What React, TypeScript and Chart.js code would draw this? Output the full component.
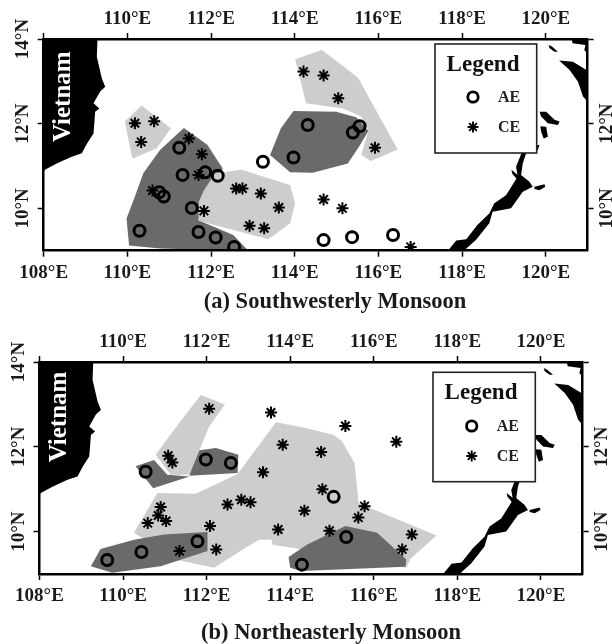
import React, { useEffect, useRef } from "react";
import { Chart, registerables } from "chart.js";

Chart.register(...registerables);

type P = [number, number];

const lonTicks = [108, 110, 112, 114, 116, 118, 120];
const latTicks = [10, 12, 14];

const vietnam: P[] = [[107.9, 14.1], [109.29, 14.1], [109.27, 13.58], [109.39, 13.07], [109.47, 12.87], [109.35, 12.76], [109.19, 12.48], [109.33, 12.36], [109.23, 12.28], [109.21, 12.01], [109.19, 11.77], [109.04, 11.54], [108.91, 11.3], [108.67, 11.22], [108.31, 11.06], [108.03, 10.91], [107.9, 10.75]];
const palawan: P[] = [[117.62, 8.95], [117.86, 9.24], [118.1, 9.27], [118.37, 9.61], [118.65, 9.88], [118.77, 10.12], [119.05, 10.31], [119.33, 10.75], [119.29, 10.98], [119.45, 11.38], [119.53, 11.3], [119.45, 11.06], [119.41, 10.79], [119.61, 10.63], [119.69, 10.51], [119.45, 10.39], [119.17, 10.0], [118.73, 9.92], [118.65, 9.65], [118.33, 9.25], [118.1, 9.05], [118.08, 8.95]];
const luzon: P[] = [[120.32, 13.49], [120.65, 13.46], [121.1, 13.19], [121.1, 12.4], [120.89, 12.64], [120.77, 12.99], [120.57, 13.27]];
const cornerIsland: P[] = [[120.6, 14.1], [121.1, 14.1], [121.1, 13.54], [120.92, 13.74], [120.95, 13.86], [120.64, 13.9]];
const islet1: P[] = [[120.07, 13.86], [120.15, 13.82], [120.29, 13.7], [120.21, 13.7], [120.09, 13.78]];
const islet2: P[] = [[119.85, 12.28], [120.01, 12.28], [120.21, 12.09], [120.33, 12.05], [120.29, 11.97], [120.05, 12.01], [119.89, 12.17]];
const islet3: P[] = [[119.87, 11.94], [120.01, 11.93], [120.05, 11.69], [119.95, 11.65], [119.89, 11.81]];
const islet4: P[] = [[119.73, 11.48], [119.85, 11.5], [119.81, 11.38], [119.75, 11.4]];
const islet5: P[] = [[119.73, 10.51], [119.97, 10.57], [119.99, 10.51], [119.85, 10.43], [119.73, 10.46]];
const islet6: P[] = [[119.18, 10.91], [119.33, 10.79], [119.38, 10.71], [119.33, 10.67], [119.2, 10.82]];
const land = [vietnam, palawan, luzon, cornerIsland, islet1, islet2, islet3, islet4, islet5, islet6];

// (a) Southwesterly Monsoon
const swLightNW: P[] = [[109.94, 12.05], [110.34, 12.43], [111.04, 11.89], [110.7, 11.42], [110.12, 11.17]];
const swDarkSW: P[] = [[111.35, 11.9], [111.91, 11.5], [112.28, 10.94], [111.83, 10.35], [111.7, 9.72], [112.53, 9.37], [112.89, 9.0], [110.78, 9.05], [110.04, 9.12], [109.98, 9.76], [110.18, 10.28], [110.38, 10.83], [110.78, 11.38]];
const swLightMid: P[] = [[112.73, 10.91], [112.1, 10.83], [111.83, 10.43], [111.71, 10.16], [111.7, 9.71], [112.53, 9.49], [113.37, 9.27], [113.89, 9.65], [114.01, 10.12], [113.89, 10.55]];
const swDarkN: P[] = [[113.97, 12.3], [114.99, 12.28], [115.47, 12.15], [115.76, 11.83], [115.55, 11.48], [115.27, 11.06], [114.43, 10.84], [113.89, 10.85], [113.41, 11.26], [113.67, 11.89]];
const swLightN: P[] = [[114.01, 13.52], [114.65, 13.74], [115.51, 13.09], [116.46, 11.39], [115.82, 11.12], [115.59, 11.26], [115.76, 11.83], [115.59, 12.17], [115.15, 12.36], [114.27, 12.48]];
const swAE: P[] = [[110.29, 9.47], [110.76, 10.38], [110.87, 10.28], [111.24, 11.43], [111.32, 10.79], [111.86, 10.85], [112.16, 10.77], [111.54, 10.01], [111.7, 9.44], [112.11, 9.31], [112.55, 9.09], [113.24, 11.1], [113.97, 11.2], [114.31, 11.97], [115.39, 11.79], [115.55, 11.94], [114.69, 9.25], [115.37, 9.32], [116.35, 9.37]];
const swCE: P[] = [[110.18, 12.01], [110.64, 12.06], [110.33, 11.57], [111.47, 11.65], [111.78, 11.28], [111.7, 10.79], [110.6, 10.42], [111.83, 9.94], [112.6, 10.47], [112.75, 10.47], [113.19, 10.35], [113.62, 10.02], [112.92, 9.59], [113.27, 9.53], [114.21, 13.23], [114.69, 13.14], [115.04, 12.6], [115.92, 11.43], [114.69, 10.21], [115.14, 10.0], [116.77, 9.09]];

// (b) Northeasterly Monsoon
const neDarkW: P[] = [[110.3, 11.54], [110.74, 11.69], [111.06, 11.34], [111.59, 11.3], [110.72, 11.02]];
const neDarkE: P[] = [[111.78, 11.91], [112.22, 11.97], [112.76, 11.81], [112.74, 11.38], [111.59, 11.32], [111.68, 11.69]];
const neLightArm: P[] = [[111.86, 13.22], [112.44, 13.0], [112.06, 12.48], [111.59, 11.34], [111.14, 11.34], [110.78, 11.81], [111.22, 12.4]];
const neLightMain: P[] = [[110.82, 10.91], [111.74, 10.89], [112.74, 11.36], [113.66, 12.58], [114.4, 12.44], [115.04, 12.28], [115.24, 12.13], [115.54, 11.62], [115.64, 10.67], [117.5, 9.91], [116.88, 9.36], [116.78, 9.15], [115.06, 9.5], [114.3, 9.58], [113.58, 9.69], [113.55, 9.81], [113.26, 9.81], [112.98, 9.65], [112.18, 9.15], [111.3, 9.33], [110.26, 9.97]];
const neDarkSW: P[] = [[109.46, 9.59], [110.26, 9.81], [110.98, 9.93], [112.02, 9.99], [112.02, 9.54], [110.9, 9.18], [109.74, 9.03], [109.23, 9.18]];
const neDarkSE: P[] = [[113.96, 9.4], [114.0, 9.15], [114.26, 9.07], [116.76, 9.17], [116.78, 9.34], [116.08, 9.97], [115.32, 10.13], [114.9, 9.93], [114.4, 9.69]];
const neAE: P[] = [[109.62, 9.33], [110.44, 9.52], [111.78, 9.77], [110.54, 11.41], [111.98, 11.7], [112.58, 11.62], [114.28, 9.22], [115.04, 10.82], [115.34, 9.87]];
const neCE: P[] = [[112.06, 12.9], [113.54, 12.81], [111.08, 11.79], [111.18, 11.63], [113.82, 12.05], [113.35, 11.4], [110.9, 10.58], [110.84, 10.38], [111.03, 10.25], [110.59, 10.2], [112.08, 10.13], [112.5, 10.64], [112.83, 10.75], [113.05, 10.69], [113.71, 10.05], [111.35, 9.54], [112.23, 9.58], [114.34, 10.49], [115.32, 12.49], [116.54, 12.12], [114.74, 11.88], [114.77, 11.0], [115.78, 10.6], [115.63, 10.33], [114.94, 10.02], [116.91, 9.93], [116.68, 9.58]];

const DARK = "#6a6a6a";
const LIGHT = "#cdcdcd";
const SERIF = '"Liberation Serif", serif';

const toXY = (pts: P[]) => pts.map(([x, y]) => ({ x, y }));
const poly = (pts: P[], color: string, order: number) => ({
  data: toXY(pts),
  showLine: true,
  fill: "shape",
  backgroundColor: color,
  borderWidth: 0,
  pointRadius: 0,
  tension: 0,
  order,
});

interface Panel {
  top: number;
  height: number;
  area: { left: number; right: number; top: number; bottom: number };
  dark: P[][];
  lightOver: P[][];
  lightUnder: P[][];
  ae: P[];
  ce: P[];
  caption: string;
  captionX: number;
  captionY: number;
  vietnam: { x: number; y: number };
  legend: { l: number; t: number; r: number; b: number; tx: number; ty: number; mx: number; tax: number; aeY: number; ceY: number };
}

const panelA: Panel = {
  top: 0,
  height: 320,
  area: { left: 43.7, right: 587.6, top: 39, bottom: 250.7 },
  dark: [swDarkSW, swDarkN],
  lightOver: [swLightMid],
  lightUnder: [swLightNW, swLightN],
  ae: swAE,
  ce: swCE,
  caption: "(a) Southwesterly Monsoon",
  captionX: 335,
  captionY: 302,
  vietnam: { x: 64, y: 96.7 },
  legend: { l: 435, t: 44, r: 536.7, b: 153, tx: 483, ty: 71, mx: 473, tax: 498, aeY: 97, ceY: 127 },
};

const panelB: Panel = {
  top: 320,
  height: 324,
  area: { left: 39.5, right: 582.7, top: 42, bottom: 254 },
  dark: [neDarkW, neDarkE, neDarkSW, neDarkSE],
  lightOver: [neLightArm],
  lightUnder: [neLightMain],
  ae: neAE,
  ce: neCE,
  caption: "(b) Northeasterly Monsoon",
  captionX: 331,
  captionY: 313,
  vietnam: { x: 59.3, y: 97 },
  legend: { l: 433, t: 52.3, r: 535.3, b: 161.7, tx: 481, ty: 79, mx: 471.7, tax: 496.7, aeY: 106, ceY: 136 },
};

function makeChart(canvas: HTMLCanvasElement, p: Panel) {
  const W = 612;
  const tickFont = { family: SERIF, size: 19, weight: "bold" as const };
  const xAxis = (position: string, skip108: boolean, size: number) => ({
    type: "linear",
    position,
    min: 108,
    max: 121,
    afterBuildTicks: (s: any) => {
      s.ticks = lonTicks.map((value) => ({ value }));
    },
    afterFit: (s: any) => {
      s.height = size;
    },
    ticks: {
      autoSkip: false,
      minRotation: 0,
      maxRotation: 0,
      padding: position === "bottom" ? 5 : 2.5,
      color: "#1a1a1a",
      font: tickFont,
      callback: (v: number) => (skip108 && v === 108 ? "" : `${v}°E`),
    },
    grid: { drawOnChartArea: false, drawTicks: true, tickLength: 6, tickWidth: 1.5, tickColor: "#000", z: 1 },
    border: { display: true, color: "#000", width: 2.5, z: 1 },
  });
  const yAxis = (position: string, skip14: boolean, size: number) => ({
    type: "linear",
    position,
    min: 9,
    max: 14,
    afterBuildTicks: (s: any) => {
      s.ticks = latTicks.map((value) => ({ value }));
    },
    afterFit: (s: any) => {
      s.width = size;
    },
    ticks: {
      autoSkip: false,
      minRotation: 90,
      maxRotation: 90,
      crossAlign: "center",
      padding: position === "left" ? -5.5 : -7,
      color: "#1a1a1a",
      font: tickFont,
      callback: (v: number) => (skip14 && v === 14 ? "" : `${v}°N`),
    },
    grid: { drawOnChartArea: false, drawTicks: true, tickLength: 6, tickWidth: 1.5, tickColor: "#000", z: 1 },
    border: { display: true, color: "#000", width: 2.5, z: 1 },
  });

  const decor = {
    id: "decor",
    afterDatasetsDraw(chart: any) {
      const ctx = chart.ctx as CanvasRenderingContext2D;
      const L = p.legend;
      ctx.save();
      ctx.fillStyle = "#fff";
      ctx.strokeStyle = "#222";
      ctx.lineWidth = 1.6;
      ctx.fillRect(L.l, L.t, L.r - L.l, L.b - L.t);
      ctx.strokeRect(L.l, L.t, L.r - L.l, L.b - L.t);

      ctx.fillStyle = "#111";
      ctx.textBaseline = "alphabetic";
      ctx.textAlign = "center";
      ctx.font = `bold 23px ${SERIF}`;
      ctx.fillText("Legend", L.tx, L.ty);
      ctx.textAlign = "left";
      ctx.textBaseline = "middle";
      ctx.font = `bold 16px ${SERIF}`;
      ctx.fillStyle = "#222";
      ctx.fillText("AE", L.tax, L.aeY + 1);
      ctx.fillText("CE", L.tax, L.ceY + 1);

      ctx.strokeStyle = "#000";
      ctx.lineWidth = 2.8;
      ctx.beginPath();
      ctx.arc(L.mx, L.aeY, 5.2, 0, Math.PI * 2);
      ctx.stroke();
      ctx.lineWidth = 1.9;
      for (let i = 0; i < 4; i++) {
        const a = (i * Math.PI) / 4;
        ctx.beginPath();
        ctx.moveTo(L.mx - 5.5 * Math.cos(a), L.ceY - 5.5 * Math.sin(a));
        ctx.lineTo(L.mx + 5.5 * Math.cos(a), L.ceY + 5.5 * Math.sin(a));
        ctx.stroke();
      }

      ctx.save();
      ctx.translate(p.vietnam.x, p.vietnam.y);
      ctx.rotate(-Math.PI / 2);
      ctx.textAlign = "center";
      ctx.textBaseline = "middle";
      ctx.fillStyle = "#fff";
      ctx.font = `bold 25px ${SERIF}`;
      ctx.fillText("Vietnam", 0, 0);
      ctx.restore();

      ctx.textAlign = "center";
      ctx.textBaseline = "middle";
      ctx.fillStyle = "#1a1a1a";
      ctx.font = `bold 22.5px ${SERIF}`;
      ctx.fillText(p.caption, p.captionX, p.captionY);
      ctx.restore();
    },
  };

  return new Chart(canvas, {
    type: "scatter",
    data: {
      datasets: [
        {
          label: "AE",
          data: toXY(p.ae),
          pointStyle: "circle",
          pointRadius: 5.5,
          pointBorderWidth: 3,
          pointBorderColor: "#000",
          pointBackgroundColor: "rgba(0,0,0,0)",
          order: 0,
        },
        {
          label: "CE",
          data: toXY(p.ce),
          pointStyle: "star",
          pointRadius: 6,
          pointBorderWidth: 2,
          pointBorderColor: "#000",
          pointBackgroundColor: "#000",
          order: 1,
        },
        ...p.lightOver.map((s) => poly(s, LIGHT, p === panelA ? 2 : 3)),
        ...p.dark.map((s) => poly(s, DARK, p === panelA ? 3 : 4)),
        ...p.lightUnder.map((s) => poly(s, LIGHT, p === panelA ? 4 : 5)),
        ...land.map((s) => poly(s, "#000", 6)),
      ],
    } as any,
    options: {
      responsive: false,
      animation: false,
      events: [],
      layout: { padding: 0 },
      plugins: { legend: { display: false }, tooltip: { enabled: false }, title: { display: false } },
      scales: {
        x: xAxis("bottom", false, p.height - p.area.bottom),
        x2: xAxis("top", true, p.area.top),
        y: yAxis("left", false, p.area.left),
        y2: yAxis("right", true, W - p.area.right),
      },
    } as any,
    plugins: [decor],
  });
}

function MapPanel({ panel }: { panel: Panel }) {
  const ref = useRef<HTMLCanvasElement>(null);
  useEffect(() => {
    const chart = makeChart(ref.current!, panel);
    return () => chart.destroy();
  }, [panel]);
  return (
    <canvas
      ref={ref}
      width={612}
      height={panel.height}
      style={{ position: "absolute", left: 0, top: panel.top, width: 612, height: panel.height, display: "block" }}
    />
  );
}

export default function App() {
  return (
    <div style={{ position: "absolute", left: 0, top: 0, width: 612, height: 644, background: "#fff", overflow: "hidden" }}>
      <MapPanel panel={panelA} />
      <MapPanel panel={panelB} />
    </div>
  );
}
